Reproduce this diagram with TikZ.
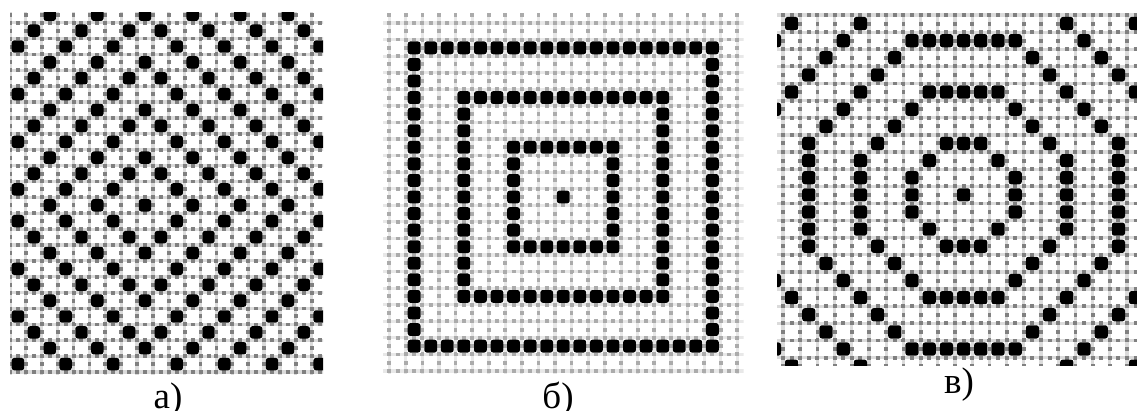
\documentclass[tikz,border=0pt]{standalone}
\usepackage{fontspec}
\setmainfont{Liberation Serif}
\tikzset{
	gridlite/.style={line width=3.2pt, draw=black!14},
	griddash/.style={line width=3.8pt, draw=black!50, dash pattern=on 4pt off #1, dash phase=2pt},
	gridlite2/.style={line width=3.2pt, draw=black!9},
	griddash2/.style={line width=3.8pt, draw=black!33, dash pattern=on 4pt off #1, dash phase=2pt},
	cell/.style={fill=black, rounded corners=2.5pt},
	lab/.style={font=\fontsize{37}{40}\selectfont, inner sep=0pt, anchor=base}
}

\begin{document}
\begin{tikzpicture}[x=1pt, y=-1pt]
	\useasboundingbox (0,0) rectangle (1137,411);
	% a) diamonds
	\def\pa{15.88}
	\begin{scope}
		\clip (10,13) rectangle (323,374);
		\foreach \k in {0,...,20} \draw[gridlite] ({10+\k*\pa},6.82) -- ({10+\k*\pa},400);
		\foreach \k in {0,...,23} \draw[gridlite] (-5.88,{6.82+\k*\pa}) -- (340,{6.82+\k*\pa});
		\foreach \k in {0,...,20} \draw[griddash=3.94pt] ({10+\k*\pa},6.82) -- ({10+\k*\pa},400);
		\foreach \k in {0,...,23} \draw[griddash=3.94pt] (-5.88,{6.82+\k*\pa}) -- (340,{6.82+\k*\pa});
		\foreach \i in {0,...,19}
		\foreach \j in {0,...,22} {
			\pgfmathtruncatemacro\on{mod(abs(\i-8)+abs(\j-12),3)==0}
			\ifnum\on=1
			\fill[cell] ({10+(\i+0.5)*\pa-6.2},{6.82+(\j+0.5)*\pa-6.2}) rectangle ++(12.4,12.4);
			\fi
		}
	\end{scope}
	% b) squares
	\def\pb{16.57}
	\begin{scope}[shift={(563.25,197)}]
		\clip (-180.25,-183.7) rectangle (180.25,176);
		\foreach \k in {-12,...,11} \draw[gridlite2] ({(\k+0.5)*\pb},{-11.5*\pb}) -- ({(\k+0.5)*\pb},200);
		\foreach \k in {-12,...,11} \draw[gridlite2] ({-11.5*\pb},{(\k+0.5)*\pb}) -- (200,{(\k+0.5)*\pb});
		\foreach \k in {-12,...,11} \draw[griddash2=4.285pt] ({(\k+0.5)*\pb},{-11.5*\pb}) -- ({(\k+0.5)*\pb},200);
		\foreach \k in {-12,...,11} \draw[griddash2=4.285pt] ({-11.5*\pb},{(\k+0.5)*\pb}) -- (200,{(\k+0.5)*\pb});
		\foreach \i in {-11,...,11}
		\foreach \j in {-11,...,11} {
			\pgfmathtruncatemacro\m{max(abs(\i),abs(\j))}
			\pgfmathtruncatemacro\on{and(mod(\m,3)==0, \m<=9)}
			\ifnum\on=1
			\fill[cell] ({\i*\pb-6.4},{\j*\pb-6.4}) rectangle ++(12.8,12.8);
			\fi
		}
	\end{scope}
	% c) octagons
	\def\pcx{17.2}
	\def\pcy{17.13}
	\begin{scope}
		\clip (777,13.3) rectangle (1137,365);
		\foreach \k in {-1,...,21} \draw[gridlite] ({783+\k*\pcx},{15-\pcy}) -- ({783+\k*\pcx},400);
		\foreach \k in {-1,...,21} \draw[gridlite] ({783-\pcx},{15+\k*\pcy}) -- (1150,{15+\k*\pcy});
		\foreach \k in {-1,...,21} \draw[griddash=4.565pt] ({783+\k*\pcx},{15-\pcy}) -- ({783+\k*\pcx},400);
		\foreach \k in {-1,...,21} \draw[griddash=4.6pt] ({783-\pcx},{15+\k*\pcy}) -- (1150,{15+\k*\pcy});
		\foreach \i in {-1,...,20}
		\foreach \j in {0,...,20} {
			\pgfmathtruncatemacro\m{max(abs(\i-10),abs(\j-10))}
			\pgfmathtruncatemacro\s{abs(\i-10)+abs(\j-10)}
			\pgfmathtruncatemacro\on{or(and(mod(\m,3)==0, 3*\s<=4*\m), and(mod(\s,4)==0, 4*\m<=3*\s))}
			\ifnum\on=1
			\fill[cell] ({783+(\i+0.5)*\pcx-6.6},{15+(\j+0.5)*\pcy-6.6}) rectangle ++(13.2,13.2);
			\fi
		}
	\end{scope}
	% labels
	\node[lab] (la) at (168,408) {а)};
	\node[lab] (lb) at (558,408) {б)};
	\node[lab] (lc) at (959,393) {в)};
\end{tikzpicture}
\end{document}
